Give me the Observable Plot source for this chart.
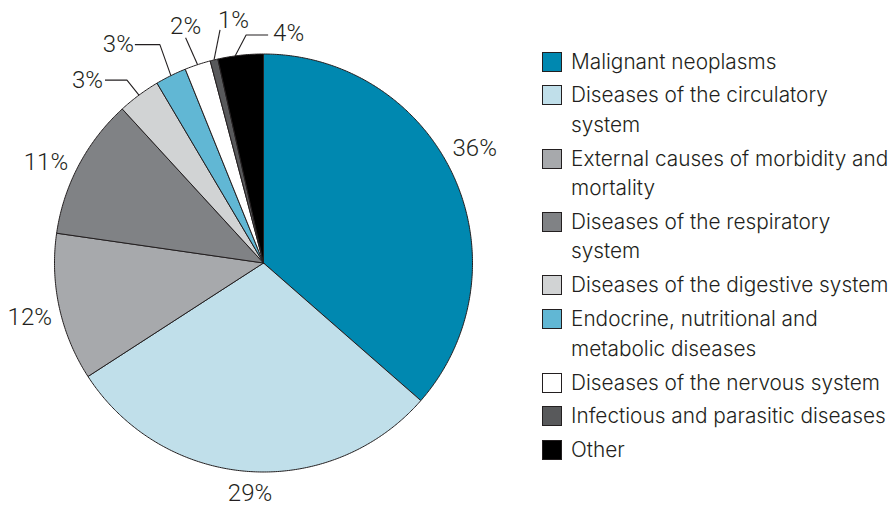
<!DOCTYPE html>
<html><head><meta charset="utf-8">
<script src="https://cdn.jsdelivr.net/npm/d3@7"></script>
<script src="https://cdn.jsdelivr.net/npm/@observablehq/plot@0.6"></script>
<style>
html,body{margin:0;padding:0;background:#fff;}
#wrap{position:relative;width:896px;height:507px;font-family:Roboto,sans-serif;color:#231f20;}
#legend{position:absolute;left:542px;top:46.5px;display:flex;flex-direction:column;gap:4.5px;}
.item{display:flex;align-items:flex-start;font-family:Inter,Roboto,sans-serif;font-weight:300;font-size:20.8px;line-height:29.4px;white-space:pre-line;}
.sw{width:18px;height:18px;border:1px solid #231f20;margin-top:5px;margin-right:9px;flex:none;}
</style></head><body><div id="wrap"></div>
<script>
// ---- data ----
const categories = [
  "Malignant neoplasms",
  "Diseases of the circulatory\nsystem",
  "External causes of morbidity and\nmortality",
  "Diseases of the respiratory\nsystem",
  "Diseases of the digestive system",
  "Endocrine, nutritional and\nmetabolic diseases",
  "Diseases of the nervous system",
  "Infectious and parasitic diseases",
  "Other"
];
const shares = [36.4, 29.4, 11.4, 10.9, 3.3, 2.4, 2.0, 0.6, 3.5];
const percentLabels = ["36%", "29%", "12%", "11%", "3%", "3%", "2%", "1%", "4%"];
const colors = ["#0088b0", "#c0dfea", "#a7a9ac", "#808285", "#d1d3d4", "#61b7d4", "#ffffff", "#58595b", "#000000"];

// ---- layout (pixels / degrees) ----
const R = 209, CX = 263, CY = 262.5;
const labelLayout = [
  {kind: "radial", r: 1.149, dAngle: -4},
  {kind: "radial", r: 1.105, dAngle: -0.8},
  {kind: "radial", r: 1.148, dAngle: -0.7},
  {kind: "radial", r: 1.146, dAngle: -3.1},
  {kind: "leader", elbow: [-12, -15], tail: -22, textAnchor: "end", lineAnchor: "middle", tdx: -2, tdy: 0},
  {kind: "leader", elbow: [-11, -31], tail: -25, textAnchor: "end", lineAnchor: "middle", tdx: -1, tdy: 0},
  {kind: "leader", elbow: [-12, -27], tail: 0, textAnchor: "middle", lineAnchor: "bottom", tdx: 0, tdy: -4},
  {kind: "leader", elbow: [6, -30], tail: 0, textAnchor: "start", lineAnchor: "bottom", tdx: -2, tdy: -2},
  {kind: "leader", elbow: [11, -21], tail: 22, textAnchor: "start", lineAnchor: "middle", tdx: 5, tdy: -2, dAngle: -1.5}
];

const rows = categories.map((name, i) => ({name, share: shares[i], label: percentLabels[i], i}));
const arcs = d3.pie().sort(null).value(d => d.share)(rows);

const slicePts = [];
for (const a of arcs) {
  slicePts.push({name: a.data.name, x: 0, y: 0});
  const n = Math.max(2, Math.ceil((a.endAngle - a.startAngle) / (Math.PI / 360)));
  for (let k = 0; k <= n; k++) {
    const t = a.startAngle + (a.endAngle - a.startAngle) * k / n;
    slicePts.push({name: a.data.name, x: Math.sin(t), y: Math.cos(t)});
  }
  slicePts.push({name: a.data.name, x: 0, y: 0});
}

const leaderPts = [];
const texts = [];
const deg = Math.PI / 180;
arcs.forEach((a, i) => {
  const L = labelLayout[i];
  const mid = (a.startAngle + a.endAngle) / 2 + (L.dAngle || 0) * deg;
  if (L.kind === "radial") {
    texts.push({x: Math.sin(mid) * L.r, y: Math.cos(mid) * L.r, label: a.data.label, ta: "middle", la: "middle"});
  } else {
    const ax = Math.sin(mid), ay = Math.cos(mid);
    const ex = ax + L.elbow[0] / R, ey = ay - L.elbow[1] / R;
    const tx = ex + L.tail / R, ty = ey;
    leaderPts.push({id: i, x: ax, y: ay}, {id: i, x: ex, y: ey}, {id: i, x: tx, y: ty});
    texts.push({x: tx + L.tdx / R, y: ty - L.tdy / R, label: a.data.label, ta: L.textAnchor, la: L.lineAnchor});
  }
});

const combos = d3.groups(texts, d => d.ta + "|" + d.la);
const textMarks = combos.map(([key, arr]) => Plot.text(arr, {
  x: "x", y: "y", text: "label",
  textAnchor: arr[0].ta, lineAnchor: arr[0].la,
  fontSize: 24, fontWeight: 300, fill: "#231f20"
}));

const chart = Plot.plot({
  width: 896, height: 507,
  margin: 0,
  x: {domain: [-1, 1], range: [CX - R, CX + R], axis: null},
  y: {domain: [-1, 1], range: [CY + R, CY - R], axis: null},
  color: {domain: categories, range: colors},
  style: {fontFamily: "Roboto, sans-serif", background: "white", color: "#231f20", overflow: "visible"},
  marks: [
    Plot.line(slicePts, {x: "x", y: "y", z: "name", fill: "name", stroke: "#231f20", strokeWidth: 1, curve: "linear"}),
    Plot.line(leaderPts, {x: "x", y: "y", z: "id", stroke: "#231f20", strokeWidth: 1.1, strokeLinecap: "butt", strokeLinejoin: "miter"}),
    ...textMarks
  ]
});

const wrap = document.getElementById("wrap");
wrap.appendChild(chart);
const legend = document.createElement("div");
legend.id = "legend";
categories.forEach((name, i) => {
  const item = document.createElement("div");
  item.className = "item";
  const sw = document.createElement("span");
  sw.className = "sw";
  sw.style.background = colors[i];
  const tx = document.createElement("span");
  tx.textContent = name;
  item.appendChild(sw);
  item.appendChild(tx);
  legend.appendChild(item);
});
wrap.appendChild(legend);
</script>
</body></html>
